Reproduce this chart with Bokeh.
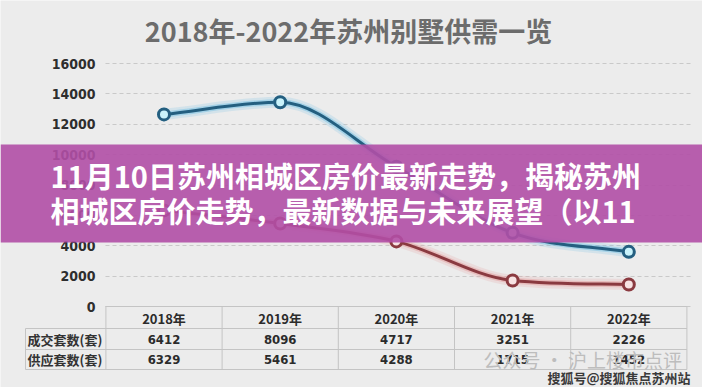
from bokeh.plotting import figure
from bokeh.models import Range1d, FixedTicker, BoxAnnotation, Label
from bokeh.core.properties import value
from bokeh.embed import file_html
from bokeh.resources import INLINE

# ---------------- data ----------------
years = ["2018年", "2019年", "2020年", "2021年", "2022年"]
y_ticks = [0, 2000, 4000, 6000, 8000, 10000, 12000, 14000, 16000]
y_tick_labels = ["0", "2000", "4000", "6000", "8000", "10000", "12000", "14000", "16000"]
deal_counts = [6412, 8096, 4717, 3251, 2226]      # 成交套数(套)
supply_counts = [6329, 5461, 4288, 1715, 1452]    # 供应套数(套)
blue_series = [12650, 13450, 9200, 4850, 3600]
row_labels = ["成交套数(套)", "供应套数(套)"]
title_text = "2018年-2022年苏州别墅供需一览"
banner_lines = ["11月10日苏州相城区房价最新走势，揭秘苏州", "相城区房价走势，最新数据与未来展望（以11"]
watermark_1 = "公众号 · 沪上楼市点评"
watermark_2 = "搜狐号@搜狐焦点苏州站"

# ---------------- layout helpers (pixel -> data) ----------------
W, H = 702, 387
def X(px):
    return (px - 163.5) / 116.2
def Y(py):
    return (306.0 - py) * 16000.0 / 243.0

BG = "#ececec"
p = figure(width=W, height=H, output_backend="svg", toolbar_location=None,
           x_range=Range1d(X(0), X(W)), y_range=Range1d(Y(H), Y(0)),
           min_border=0, x_axis_type=None)
p.background_fill_color = BG
p.border_fill_color = BG
p.outline_line_color = None
p.xgrid.visible = False

ticker = FixedTicker(ticks=y_ticks)
p.yaxis.ticker = ticker
p.yaxis.fixed_location = X(99)
p.yaxis.major_label_overrides = {t: l for t, l in zip(y_ticks, y_tick_labels)}
p.yaxis.axis_line_color = None
p.yaxis.major_tick_line_color = None
p.yaxis.minor_tick_line_color = None
p.yaxis.major_tick_out = 0
p.yaxis.minor_tick_out = 0
p.yaxis.major_label_standoff = 4
p.yaxis.major_label_text_font = "DejaVu Sans Condensed"
p.yaxis.major_label_text_font_style = "bold"
p.yaxis.major_label_text_font_size = "14px"
p.yaxis.major_label_text_color = "#2e2e2e"

p.ygrid.ticker = ticker
p.ygrid.grid_line_color = "#c9c9c9"
p.ygrid.grid_line_dash = "4 3"
p.ygrid.grid_line_width = 1
try:
    p.ygrid.cross_bounds = (X(105), X(690))
except Exception:
    pass

xs = list(range(len(years)))

# ---------------- smooth (monotone) lines drawn as bezier segments ----------------
def bezier_parts(xv, yv):
    n = len(xv)
    d = [yv[k + 1] - yv[k] for k in range(n - 1)]
    m = [0.0] * n
    m[0], m[-1] = d[0], d[-1]
    for k in range(1, n - 1):
        m[k] = 0.0 if d[k - 1] * d[k] <= 0 else (d[k - 1] + d[k]) / 2.0
    for k in range(n - 1):
        if d[k] == 0:
            m[k] = m[k + 1] = 0.0
            continue
        a, b = m[k] / d[k], m[k + 1] / d[k]
        s = a * a + b * b
        if s > 9:
            t = 3.0 / s ** 0.5
            m[k], m[k + 1] = t * a * d[k], t * b * d[k]
    out = dict(x0=[], y0=[], x1=[], y1=[], cx0=[], cy0=[], cx1=[], cy1=[])
    for i in range(n - 1):
        h = xv[i + 1] - xv[i]
        out["x0"].append(xv[i]); out["y0"].append(yv[i])
        out["x1"].append(xv[i + 1]); out["y1"].append(yv[i + 1])
        out["cx0"].append(xv[i] + h / 3.0); out["cy0"].append(yv[i] + m[i] / 3.0)
        out["cx1"].append(xv[i + 1] - h / 3.0); out["cy1"].append(yv[i + 1] - m[i + 1] / 3.0)
    return out

for series, core, glow, fill in [
    (blue_series, "#245f80", "#6fbfe4", "#c9f3fb"),
    (supply_counts, "#8a3a40", "#e49a9a", "#f7e3e3"),
]:
    bz = bezier_parts(xs, series)
    p.bezier(**bz, line_color=glow, line_width=11, line_alpha=0.2)
    p.bezier(**bz, line_color=glow, line_width=6, line_alpha=0.45)
    p.bezier(**bz, line_color=core, line_width=3)
    p.scatter(xs, series, marker="circle", size=14, fill_color=glow, fill_alpha=0.3, line_color=None)
    p.scatter(xs, series, marker="circle", size=11, fill_color=fill, line_color=core, line_width=3)

# ---------------- table ----------------
T_TOP, T_R1, T_R2, T_BOT = 306, 328, 349, 369
n = len(years)
col_edges = [i - 0.5 for i in range(n + 1)]
border = "#c4c4c4"
p.segment(x0=[X(105), X(25), X(25), X(25)], y0=[Y(T_TOP), Y(T_R1), Y(T_R2), Y(T_BOT)],
          x1=[col_edges[-1]] * 4, y1=[Y(T_TOP), Y(T_R1), Y(T_R2), Y(T_BOT)],
          line_color=border, line_width=1)
p.segment(x0=col_edges, y0=[Y(T_TOP)] * (n + 1), x1=col_edges, y1=[Y(T_BOT)] * (n + 1),
          line_color=border, line_width=1)
p.segment(x0=[X(25)], y0=[Y(T_R1)], x1=[X(25)], y1=[Y(T_BOT)], line_color=border, line_width=1)

tfont = value("DejaVu Sans Condensed")
cfont = value("Noto Sans CJK SC")
p.text(x=xs, y=[Y(318)] * n, text=years, text_align="center", text_baseline="middle",
       text_font=cfont, text_font_style="bold", text_font_size="13px", text_color="#2b2b2b")
p.text(x=xs, y=[Y(339)] * n, text=[str(v) for v in deal_counts], text_align="center",
       text_baseline="middle", text_font=tfont, text_font_style="bold",
       text_font_size="13px", text_color="#2b2b2b")

wm1 = Label(x=X(483), y=Y(359), text=watermark_1, text_align="left", text_baseline="middle",
            text_font="Noto Sans CJK SC", text_font_size="19px", text_color="#bdbdbd")
p.add_layout(wm1)

p.text(x=xs, y=[Y(359)] * n, text=[str(v) for v in supply_counts], text_align="center",
       text_baseline="middle", text_font=tfont, text_font_style="bold",
       text_font_size="13px", text_color="#2b2b2b")
p.text(x=[X(64.5)] * 2, y=[Y(339), Y(359)], text=row_labels, text_align="center",
       text_baseline="middle", text_font=cfont, text_font_style="bold",
       text_font_size="13px", text_color="#333333")

# ---------------- title ----------------
p.add_layout(Label(x=X(348), y=Y(30), text=title_text, text_align="center",
                   text_baseline="middle", text_font="Noto Sans CJK SC",
                   text_font_style="bold", text_font_size="27px", text_color="#6c6c6c"))

# ---------------- banner overlay ----------------
p.add_layout(BoxAnnotation(bottom=Y(242), top=Y(144), fill_color="#b14fa6",
                           fill_alpha=0.9, line_alpha=0))
for ln, cy in zip(banner_lines, [174, 209]):
    p.add_layout(Label(x=X(50), y=Y(cy), text=ln, text_align="left", text_baseline="middle",
                       text_font="Noto Sans CJK SC", text_font_style="bold",
                       text_font_size="29px", text_color="white"))

p.add_layout(Label(x=X(690), y=Y(377), text=watermark_2, text_align="right",
                   text_baseline="middle", text_font="Noto Sans CJK SC", text_font_style="bold",
                   text_font_size="13px", text_color="#3a3a3a"))

open("out.html", "w").write(file_html(p, INLINE))
